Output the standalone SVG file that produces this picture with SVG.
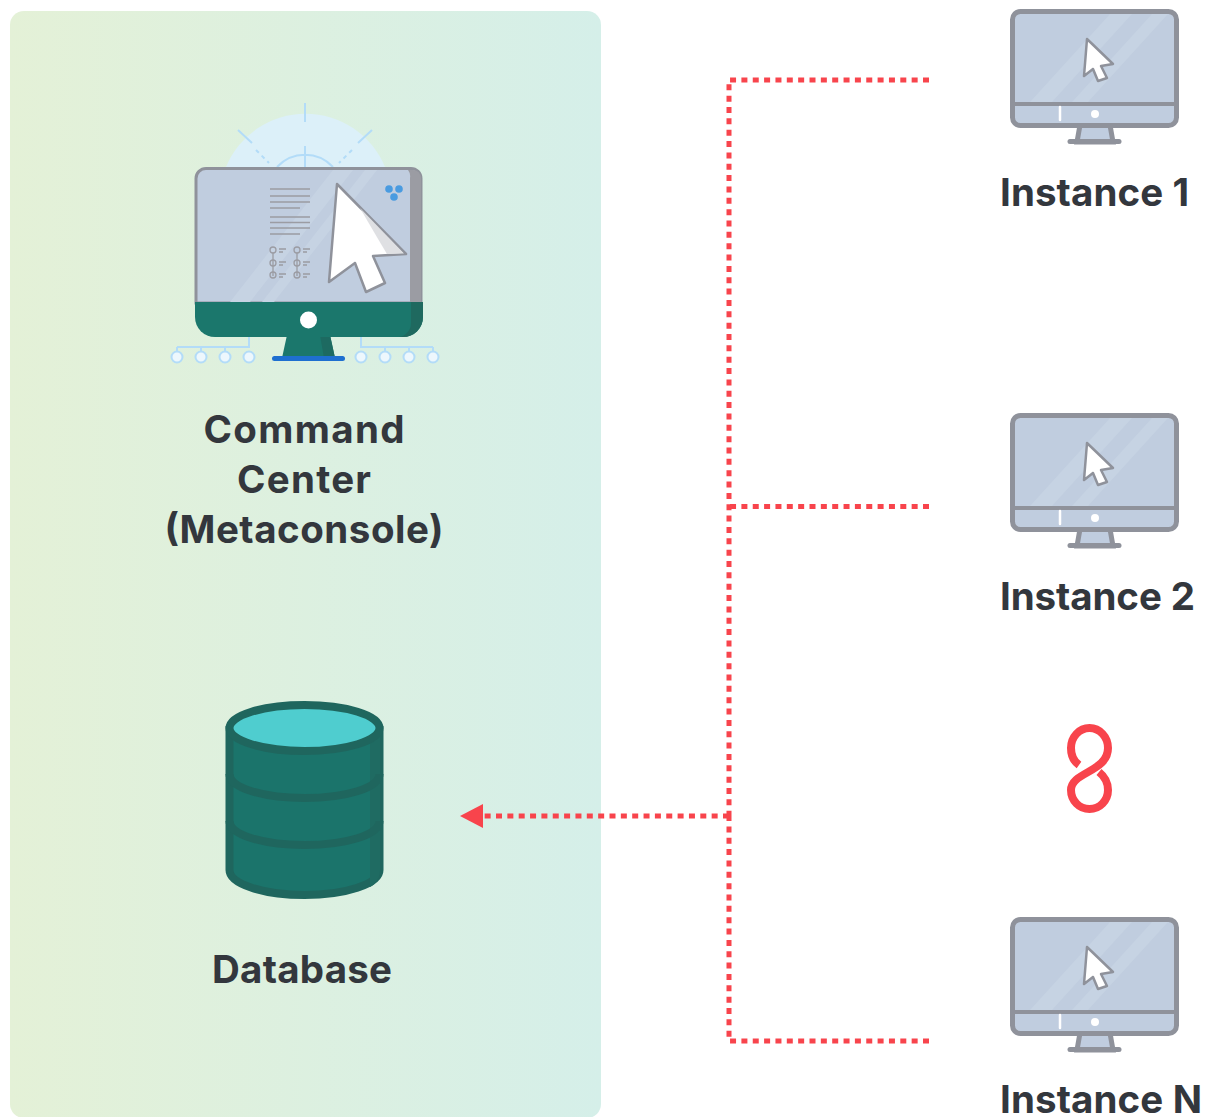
<svg xmlns="http://www.w3.org/2000/svg" width="1208" height="1117" viewBox="0 0 1208 1117">
<style>
.t{font-family:"Inter","Liberation Sans",sans-serif;font-weight:700;font-size:38.500px;fill:#33373d;text-anchor:middle}
.tl{text-anchor:start}
.dot{fill:none;stroke:#f8444c;stroke-width:5;stroke-dasharray:6 5.35}
.blue{fill:none;stroke:#b3dcf8;stroke-width:2}
.node{fill:#edf7fd;stroke:#b3dcf8;stroke-width:2}
.ln{fill:none;stroke:#9b9ca3;stroke-width:1.5}
.sm{fill:none;stroke:#9b9ca3;stroke-width:1.3}
</style>
<defs>
<linearGradient id="bg" x1="0" x2="1" y1="0" y2="0"><stop offset="0" stop-color="#e4f1d7"/><stop offset="1" stop-color="#d5efe9"/></linearGradient>
<clipPath id="sc"><rect x="1013" y="12" width="163" height="90"/></clipPath>
<g id="mon">
<path d="M1080 125h30l3 17h-36z" fill="#c0cddf" stroke="#8f929b" stroke-width="5"/>
<path d="M1070 141.500h49" stroke="#8f929b" stroke-width="5" stroke-linecap="round"/>
<rect x="1012.500" y="11.500" width="164" height="114" rx="8" fill="#c0cddf" stroke="#8f929b" stroke-width="5"/>
<path d="M1030 102l80-88h22l-80 88zM1072 102l80-88h16l-80 88z" fill="#c6d3e3" clip-path="url(#sc)"/>
<path d="M1012 104h165" stroke="#8f929b" stroke-width="4"/>
<path d="M1060 107v13" stroke="#fff" stroke-width="2.500" stroke-linecap="round"/>
<circle cx="1095" cy="114" r="4" fill="#fff"/>
<path d="M1087 39l26 25-12 2 6 12-9 3-5-12-9 7z" fill="#fff" stroke="#8f929b" stroke-width="2.500" stroke-linejoin="round"/>
</g>
</defs>
<rect id="panel" x="10" y="11" width="591" height="1107" rx="14" fill="url(#bg)"/>
<g id="connectors">
<path class="dot" d="M929 80H729V816"/>
<path class="dot" d="M929 1041H729V816"/>
<path class="dot" d="M929 506.500H729"/>
<path class="dot" d="M729 816H484"/>
<path d="M460 816l23-12v24z" fill="#f8444c"/>
</g>
<g id="command-center">
<path d="M226 167A86 86 0 0 1 385 167z" fill="#dcf0f9"/>
<path class="blue" d="M305 103v19M238 130l14 13M372 130l-14 13M305 146v21M277 167a38 38 0 0 1 56 0"/>
<path class="blue" stroke-dasharray="4 4" d="M256 150l13 13M352 150l-13 13"/>
<path class="blue" d="M249 337v10H177M201 347v10M225 347v10M177 347v10M361 337v10H433M385 347v10M409 347v10M433 347v10"/>
<g class="node"><circle cx="177" cy="357" r="5.500"/><circle cx="201" cy="357" r="5.500"/><circle cx="225" cy="357" r="5.500"/><circle cx="249" cy="357" r="5.500"/><circle cx="361" cy="357" r="5.500"/><circle cx="385" cy="357" r="5.500"/><circle cx="409" cy="357" r="5.500"/><circle cx="433" cy="357" r="5.500"/></g>
<path d="M287 335h43l5 23h-53z" fill="#1b776c"/>
<path d="M320 335h10l5 23h-11z" fill="#1d6a61"/>
<rect x="272" y="356" width="73" height="5" rx="2.500" fill="#1e6fd0"/>
<path d="M206 168.500h205a10 10 0 0 1 10 10V303H196V178.500a10 10 0 0 1 10-10z" fill="#c0cddf" stroke="#8f929b" stroke-width="3"/>
<path d="M408 170h5a8 8 0 0 1 8 8V303h-11V178a10 10 0 0 0-2-8z" fill="#9b9ca3"/>
<path d="M230 302l103-132h20L250 302zM262 302l103-132h12L274 302z" fill="#c6d3e3"/>
<path d="M195 302h228v15a20 20 0 0 1-20 20H215a20 20 0 0 1-20-20z" fill="#1b776c"/>
<path d="M411 302h12v15a20 20 0 0 1-20 20h-4a14 14 0 0 0 12-14z" fill="#1f695f"/>
<circle cx="308.500" cy="320" r="8.500" fill="#fff"/>
<g class="ln"><path d="M270 189h40M270 196h40M270 202h40M270 208h30M270 217h40M270 222.500h40M270 228h40M270 234h30"/></g>
<g class="sm"><path d="M273 253v23M297 253v23"/><circle cx="273" cy="250" r="3"/><circle cx="273" cy="263" r="3"/><circle cx="273" cy="275" r="3"/><circle cx="297" cy="250" r="3"/><circle cx="297" cy="263" r="3"/><circle cx="297" cy="275" r="3"/><path d="M279 249h7M279 252h4M279 262h7M279 265h4M279 274h7M279 277h4M303 249h7M303 252h4M303 262h7M303 265h4M303 274h7M303 277h4"/></g>
<path d="M337 184l69 70-33 2 12 27-19 9-11-29-26 19z" fill="#fff" stroke="#8f929b" stroke-width="2.500" stroke-linejoin="round"/>
<path d="M360 208l44 45.500-17 .5q-12-20-27-46z" fill="#dfe0e3"/>
<g fill="#4a9be0"><circle cx="389" cy="189" r="3.800"/><circle cx="399" cy="189" r="3.800"/><circle cx="394" cy="197" r="3.800"/></g>
<text class="t" x="304" y="443" textLength="201">Command</text>
<text class="t" x="304" y="493" textLength="134">Center</text>
<text class="t" x="304" y="543" textLength="279">(Metaconsole)</text>
</g>
<g id="database">
<path d="M229.500 730V870c0 14 34 25 75 25s75-11 75-25V730z" fill="#1b746b" stroke="#1f665e" stroke-width="8"/>
<path d="M370 735h10V870c0 8-4 14-10 17z" fill="#1f6b62"/>
<path d="M229.500 774c0 14 34 24 75 24s75-10 75-24M229.500 821c0 14 34 24 75 24s75-10 75-24" fill="none" stroke="#1f665e" stroke-width="8"/>
<ellipse cx="304.500" cy="728" rx="75" ry="23" fill="#4fcdcf" stroke="#1f665e" stroke-width="8"/>
<text class="t" x="302" y="983" textLength="180">Database</text>
</g>
<g id="instance-1"><use href="#mon"/><text class="t tl" x="1000" y="206" textLength="189">Instance 1</text></g>
<g id="instance-2"><use href="#mon" y="404"/><text class="t tl" x="1000" y="610" textLength="195">Instance 2</text></g>
<g id="instance-n"><use href="#mon" y="908"/><text class="t tl" x="1000" y="1113" textLength="202">Instance N</text></g>
<g id="ellipsis"><path d="M1079 765C1072 760 1071 752 1071 748a18.500 20 0 0 1 37 0C1108 772 1071 772 1071 790a18.500 19 0 0 0 37 0C1108 782 1104 776 1099 772" fill="none" stroke="#f8444c" stroke-width="8"/></g>
</svg>
